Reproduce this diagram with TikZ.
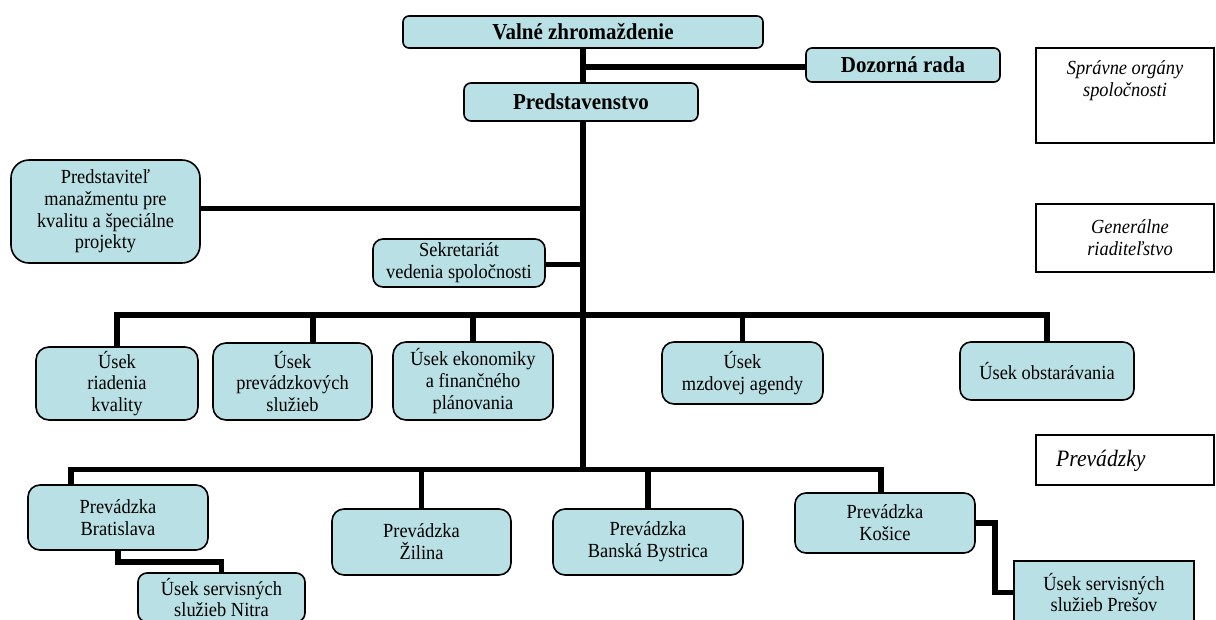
\documentclass[tikz,border=0pt]{standalone}
\usepackage{fontspec}
\setmainfont{Liberation Serif}[FakeStretch=0.92]
\definecolor{boxfill}{RGB}{185,224,228}
\tikzset{
  orgbox/.style={draw=black, line width=1.6pt, fill=boxfill, align=center, inner sep=0pt,
    font=\fontsize{20}{21.8}\selectfont},
  titlebox/.style={orgbox, font=\fontsize{22.8}{24}\selectfont\bfseries},
  sidebox/.style={draw=black, line width=1.6pt, fill=white, inner sep=0pt},
  sidetext/.style={font=\fontsize{20}{21.8}\selectfont\itshape, align=center, inner sep=0pt},
  conn/.style={line width=5.5pt},
  stub/.style={line width=2.5pt},
}
\begin{document}
\begin{tikzpicture}[x=1pt,y=-1pt]
\useasboundingbox (0,0) rectangle (1216,619);
\clip (0,0) rectangle (1216,619);

% governing bodies
\node[titlebox, minimum width=360pt, minimum height=32pt, rounded corners=6pt] (vz) at (583,32) {Valné zhromaždenie};
\node[titlebox, minimum width=194pt, minimum height=34pt, rounded corners=6pt] (dr) at (903,65) {Dozorná rada};
\node[titlebox, minimum width=234pt, minimum height=38pt, rounded corners=7pt] (ps) at (581,102) {Predstavenstvo};

% side legend boxes
\node[sidebox, minimum width=178pt, minimum height=95pt] (so) at (1125,95.5) {};
\node[sidetext] (sot) at (1125,81) {Správne orgány\\spoločnosti};
\node[sidebox, minimum width=178pt, minimum height=68pt] (gr) at (1125,238) {};
\node[sidetext] (grt) at (1130,238) {Generálne\\riaditeľstvo};
\node[sidebox, minimum width=178pt, minimum height=50pt] (pv) at (1125,460) {};
\node[sidetext, anchor=west, font=\fontsize{23.5}{25}\selectfont\itshape] (pvt) at (1056,461) {Prevádzky};

% general directorate
\node[orgbox, minimum width=189pt, minimum height=103pt, rounded corners=18pt] (pm) at (105.5,211.5)
  {Predstaviteľ\\manažmentu pre\\kvalitu a špeciálne\\projekty};
\node[orgbox, minimum width=172pt, minimum height=48pt, rounded corners=10pt] (sk) at (459,263)
  {Sekretariát\\vedenia spoločnosti};

\node[orgbox, minimum width=162pt, minimum height=73pt, rounded corners=13pt] (ur) at (117,383.5)
  {Úsek\\riadenia\\kvality};
\node[orgbox, minimum width=159pt, minimum height=77pt, rounded corners=13pt] (up) at (292.5,381.5)
  {Úsek\\prevádzkových\\služieb};
\node[orgbox, minimum width=160pt, minimum height=78pt, rounded corners=13pt] (ue) at (473,381)
  {Úsek ekonomiky\\a finančného\\plánovania};
\node[orgbox, minimum width=161pt, minimum height=62pt, rounded corners=12pt] (um) at (742.5,373)
  {Úsek\\mzdovej agendy};
\node[orgbox, minimum width=174pt, minimum height=58pt, rounded corners=11pt] (uo) at (1047,371)
  {Úsek obstarávania};

% plants
\node[orgbox, minimum width=180pt, minimum height=65pt, rounded corners=12pt] (pb) at (118,517.5)
  {Prevádzka\\Bratislava};
\node[orgbox, minimum width=179pt, minimum height=66pt, rounded corners=12pt] (pz) at (421.5,542)
  {Prevádzka\\Žilina};
\node[orgbox, minimum width=190pt, minimum height=66pt, rounded corners=12pt] (pbb) at (648,542)
  {Prevádzka\\Banská Bystrica};
\node[orgbox, minimum width=180pt, minimum height=60pt, rounded corners=11pt] (pk) at (885,523)
  {Prevádzka\\Košice};
\node[orgbox, minimum width=167pt, minimum height=49pt, rounded corners=9pt] (un) at (221.5,597.5)
  {Úsek servisných\\služieb Nitra};
\node[orgbox, minimum width=180pt, minimum height=63pt] (upr) at (1104,592.5)
  {Úsek servisných\\služieb Prešov};

% connectors
\coordinate (tA) at (583,67);
\coordinate (tB) at (583,208.5);
\coordinate (tC) at (583,264.5);
\coordinate (barT) at (583,315);
\coordinate (barB) at (583,469.5);

\draw[conn] (vz.south -| tA) -- (ps.north -| tA);
\draw[conn] (tA) -- (dr.west |- tA);
\draw[conn] (ps.south -| barB) -- (barB);
\draw[conn] (pm.east |- tB) -- (tB);
\draw[conn] (sk.east |- tC) -- (tC);

\draw[conn] (ur.north) |- (barT) -| (uo.north);
\draw[conn] ([xshift=20.5pt]up.north) -- ([xshift=20.5pt]up.north |- barT);
\draw[conn] (ue.north) -- (ue.north |- barT);
\draw[conn] (um.north) -- (um.north |- barT);

\draw[conn] ([xshift=-47pt]pb.north) |- (barB) -| ([xshift=-4pt]pk.north);
\draw[conn] (pz.north) -- (pz.north |- barB);
\draw[conn] (pbb.north) -- (pbb.north |- barB);
\draw[stub] ([xshift=-47pt,yshift=-1pt]pb.north) -- ([xshift=-62pt,yshift=-1pt]pb.north);
\draw[stub] ([xshift=-4pt,yshift=-1pt]pk.north) -- ([xshift=9pt,yshift=-1pt]pk.north);

\coordinate (nA) at (118,562);
\coordinate (kA) at (995,523);
\draw[conn] (pb.south) -- (nA) -| (un.north);
\draw[conn] (pk.east) -- (kA) |- (upr.west);
\end{tikzpicture}
\end{document}
